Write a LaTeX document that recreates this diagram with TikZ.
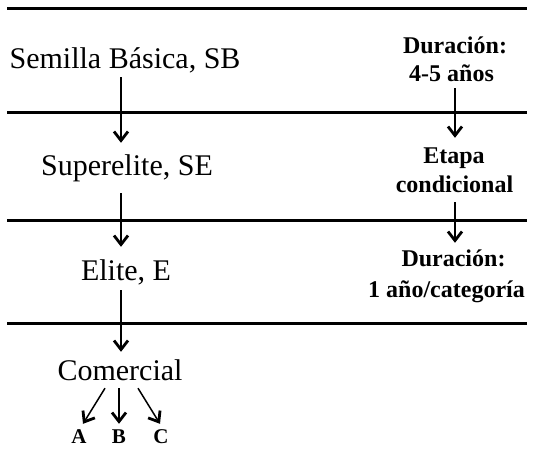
\documentclass[tikz,border=0pt]{standalone}
\usepackage{fontspec}
\setmainfont{Liberation Serif}
\usetikzlibrary{arrows.meta}
\begin{document}
\begin{tikzpicture}[x=1pt,y=-1pt,
  big/.style={font=\fontsize{30}{34}\selectfont, inner sep=0pt, anchor=base, text height=21pt, text depth=0pt},
  side/.style={font=\fontsize{24}{28}\selectfont\bfseries, inner sep=0pt, anchor=base, text height=17pt, text depth=0pt},
  lab/.style={font=\fontsize{21}{24}\selectfont\bfseries, inner sep=0pt, anchor=base, text height=14pt, text depth=0pt},
  rule/.style={line width=3pt},
  arr/.style={line width=1.5pt, -{Straight Barb[length=9pt,width=14pt,line width=2.8pt]}}
]
\useasboundingbox[fill=white] (0,0) rectangle (535,448);
% horizontal rules
\coordinate (r1l) at (7,8);   \coordinate (r1r) at (527,8);
\coordinate (r2l) at (7,112); \coordinate (r2r) at (527,112);
\coordinate (r3l) at (7,220); \coordinate (r3r) at (527,220);
\coordinate (r4l) at (7,323); \coordinate (r4r) at (527,323);
\draw[rule] (r1l) -- (r1r);
\draw[rule] (r2l) -- (r2r);
\draw[rule] (r3l) -- (r3r);
\draw[rule] (r4l) -- (r4r);
% left column
\node[big] (sb) at (125,68) {Semilla Básica, SB};
\node[big] (se) at (127,175) {Superelite, SE};
\node[big] (el) at (126,280) {Elite, E};
\node[big] (co) at (120,380) {Comercial};
\node[lab] (A) at (79,443) {A};
\node[lab] (B) at (119,443) {B};
\node[lab] (C) at (161,443) {C};
% right column
\node[side] (d1a) at (455,53) {Duración:};
\node[side] (d1b) at (451.5,81) {4-5 años};
\node[side] (e1) at (454,163) {Etapa};
\node[side] (e2) at (454.5,192) {condicional};
\node[side] (d2a) at (453.5,266) {Duración:};
\node[side] (d2b) at (446.5,297) {1 año/categoría};
% left arrows (x = 121)
\draw[arr] ([xshift=-4pt,yshift=-9pt]sb.south) -- ([xshift=-6pt,yshift=11pt]se.north);
\draw[arr] ([xshift=-6pt,yshift=-18pt]se.south) -- ([xshift=-5pt,yshift=12pt]el.north);
\draw[arr] ([xshift=-5pt,yshift=-10pt]el.south) -- ([xshift=1pt,yshift=7pt]co.north);
% sub arrows
\draw[arr] ([xshift=-15pt,yshift=-8pt]co.south) -- ([xshift=4pt,yshift=5pt]A.north);
\draw[arr] ([xshift=-1pt,yshift=-8pt]co.south) -- ([xshift=0pt,yshift=5pt]B.north);
\draw[arr] ([xshift=18pt,yshift=-8pt]co.south) -- ([xshift=-1pt,yshift=5pt]C.north);
% right arrows (x = 455)
\draw[arr] ([xshift=3.5pt,yshift=-7pt]d1b.south) -- ([xshift=1pt,yshift=8pt]e1.north);
\draw[arr] ([xshift=0.5pt,yshift=-10pt]e2.south) -- ([xshift=1.5pt,yshift=6pt]d2a.north);
\end{tikzpicture}
\end{document}
